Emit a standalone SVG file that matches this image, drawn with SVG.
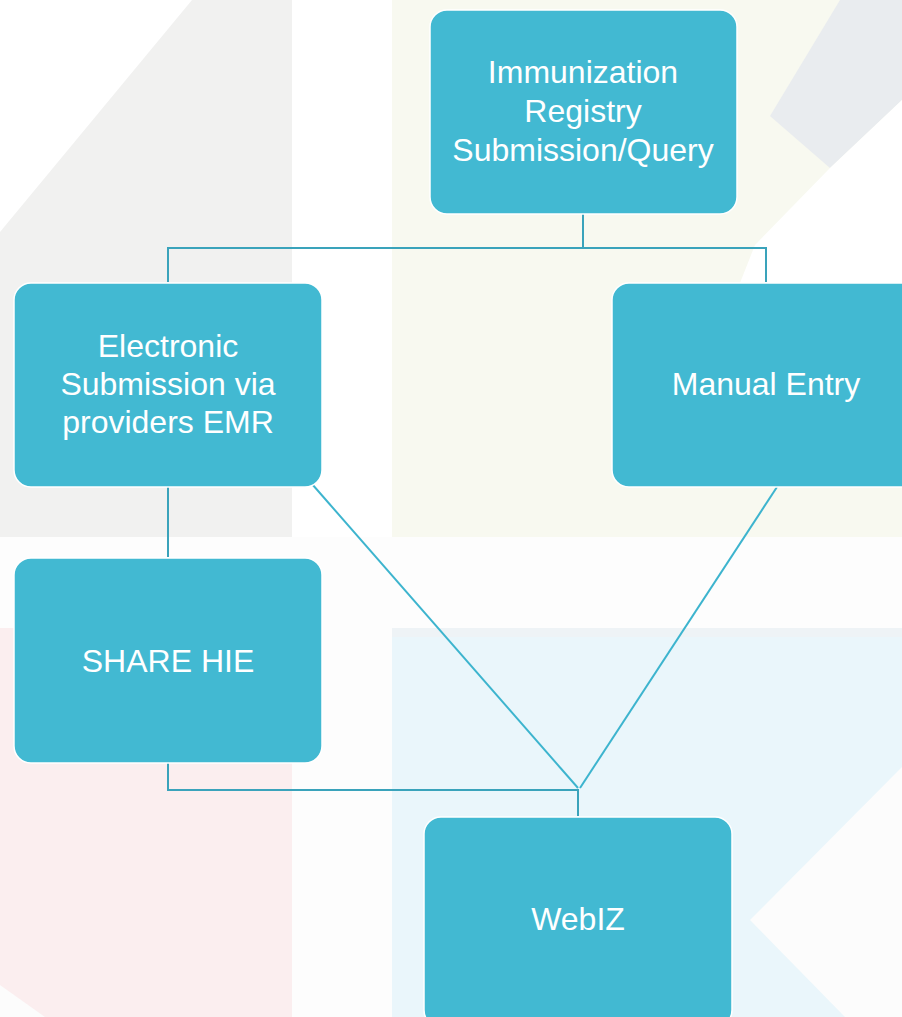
<svg xmlns="http://www.w3.org/2000/svg" width="902" height="1017" viewBox="0 0 902 1017">
<style>
.node{fill:#42b9d2;stroke:#ffffff;stroke-width:1.5}
.lbl{font-family:"Liberation Sans",Arial,sans-serif;font-size:32px;fill:#ffffff;text-anchor:middle}
.elbow{fill:none;stroke:#3aa3bb;stroke-width:2}
.diag{fill:none;stroke:#3db4ce;stroke-width:2}
</style>
<g id="background">
<rect x="0" y="0" width="902" height="1017" fill="#fdfdfd"/>
<rect x="0" y="0" width="392" height="537" fill="#ffffff"/>
<polygon points="192,0 292,0 292,537 0,537 0,232" fill="#f1f1f0"/>
<rect x="392" y="0" width="510" height="537" fill="#f8f9f0"/>
<polygon points="840,0 902,0 902,100 830,168 770,116" fill="#e9ecef"/>
<polygon points="902,100 830,168 755,245 740,283 902,283" fill="#ffffff"/>
<rect x="0" y="628" width="292" height="389" fill="#fbeeef"/>
<polygon points="0,985 0,1017 45,1017" fill="#fcfcfc"/>
<rect x="392" y="628" width="510" height="10" fill="#eef3f6"/>
<rect x="392" y="637" width="510" height="380" fill="#eaf6fb"/>
<polygon points="902,767 750,920 845,1017 902,1017" fill="#fcfcfc"/>
</g>
<g id="connectors">
<polyline class="elbow" points="583,214 583,248"/>
<polyline class="elbow" points="168,282 168,248 766,248 766,282"/>
<polyline class="elbow" points="168,487 168,557"/>
<polyline class="elbow" points="168,763 168,790 578,790 578,816"/>
<line class="diag" x1="312" y1="484" x2="578" y2="788"/>
<line class="diag" x1="777" y1="487" x2="580" y2="788"/>
</g>
<g id="node-registry">
<rect class="node" x="430" y="10" width="307" height="204" rx="17"/>
<text class="lbl" x="583" y="83">Immunization</text>
<text class="lbl" x="583" y="122">Registry</text>
<text class="lbl" x="583" y="161">Submission/Query</text>
</g>
<g id="node-electronic">
<rect class="node" x="14" y="283" width="308" height="204" rx="17"/>
<text class="lbl" x="168" y="357">Electronic</text>
<text class="lbl" x="168" y="395">Submission via</text>
<text class="lbl" x="168" y="433">providers EMR</text>
</g>
<g id="node-manual">
<rect class="node" x="612" y="283" width="308" height="204" rx="17"/>
<text class="lbl" x="766" y="395">Manual Entry</text>
</g>
<g id="node-share">
<rect class="node" x="14" y="558" width="308" height="205" rx="17"/>
<text class="lbl" x="168" y="672">SHARE HIE</text>
</g>
<g id="node-webiz">
<rect class="node" x="424" y="817" width="308" height="210" rx="17"/>
<text class="lbl" x="578" y="930">WebIZ</text>
</g>
</svg>
